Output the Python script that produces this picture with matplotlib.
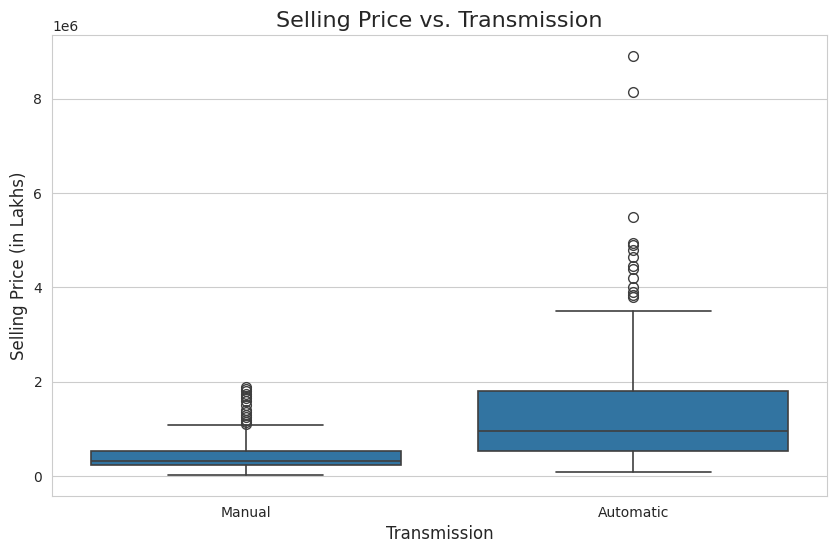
import matplotlib
matplotlib.use("Agg")
import matplotlib.pyplot as plt
import seaborn as sns

categories = ["Manual", "Automatic"]
q1 = [0.23e6, 0.53e6]
med = [0.32e6, 0.95e6]
q3 = [0.53e6, 1.80e6]
whislo = [0.02e6, 0.08e6]
whishi = [1.08e6, 3.51e6]
fliers = [
    [1.1e6, 1.15e6, 1.2e6, 1.25e6, 1.3e6, 1.35e6, 1.4e6, 1.5e6, 1.6e6, 1.65e6, 1.7e6, 1.75e6, 1.8e6, 1.85e6, 1.9e6],
    [3.8e6, 3.85e6, 3.9e6, 4.0e6, 4.2e6, 4.4e6, 4.45e6, 4.65e6, 4.8e6, 4.9e6, 4.95e6, 5.5e6, 8.15e6, 8.9e6],
]

sns.set_style("whitegrid")
fig = plt.figure(figsize=(8.37, 5.53), dpi=100)
ax = fig.add_axes([52/837, 57/553, 775/837, 461/553])

stats = []
for i, c in enumerate(categories):
    stats.append(dict(label=c, q1=q1[i], med=med[i], q3=q3[i],
                      whislo=whislo[i], whishi=whishi[i], fliers=fliers[i]))

edge = "#3f3f3f"
ax.bxp(stats, positions=range(len(categories)), widths=0.8, patch_artist=True,
       boxprops=dict(facecolor="#3274a1", edgecolor=edge, linewidth=1.2),
       medianprops=dict(color=edge, linewidth=1.2),
       whiskerprops=dict(color=edge, linewidth=1.2),
       capprops=dict(color=edge, linewidth=1.2),
       flierprops=dict(marker="o", markerfacecolor="none", markeredgecolor=edge, markersize=7))

ax.set_xlim(-0.5, 1.5)
ax.set_ylim(-0.42e6, 9.35e6)
ax.xaxis.grid(False)
ax.set_title("Selling Price vs. Transmission", fontsize=16)
ax.set_xlabel("Transmission", fontsize=12)
ax.set_ylabel("Selling Price (in Lakhs)", fontsize=12)
fig.savefig("out.png", dpi=100)
